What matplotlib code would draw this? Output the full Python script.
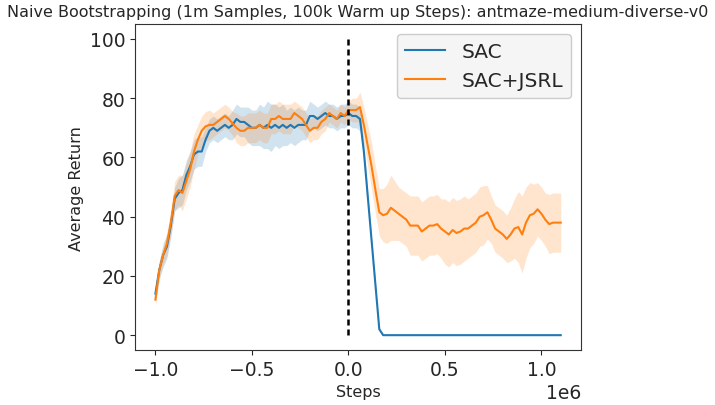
import numpy as np
import matplotlib
matplotlib.use("Agg")
import matplotlib.pyplot as plt

# Steps grid (in units of 1e6), every 20k steps
steps = np.round(np.arange(-1.0, 1.1001, 0.02), 2) * 1e6

sac_mean = [
    14, 22, 27, 30, 37, 46, 48, 49, 54, 57,
    61, 62, 62, 66, 69, 70, 69, 70, 71, 70,
    71, 73, 72, 72, 71, 70, 70, 71, 70, 71,
    70, 71, 70, 71, 70, 71, 70, 71, 71, 71,
    74, 74, 73, 74, 75, 74, 74, 73, 74, 74,
    75, 74, 74, 73, 62, 47, 32, 17, 2, 0,
    0, 0, 0, 0, 0, 0, 0, 0, 0, 0,
    0, 0, 0, 0, 0, 0, 0, 0, 0, 0,
    0, 0, 0, 0, 0, 0, 0, 0, 0, 0,
    0, 0, 0, 0, 0, 0, 0, 0, 0, 0,
    0, 0, 0, 0, 0, 0,
]
sac_ci = [
    3, 3, 4, 4, 4, 4, 5, 5, 5, 5,
    5, 5, 5, 4, 4, 4, 4, 4, 4, 4,
    5, 5, 5, 5, 6, 6, 6, 7, 7, 8,
    8, 7, 7, 7, 6, 6, 6, 6, 5, 5,
    5, 4, 4, 4, 4, 4, 4, 4, 4, 4,
    4, 4, 4, 4, 3, 2, 1, 1, 0.5, 0,
    0, 0, 0, 0, 0, 0, 0, 0, 0, 0,
    0, 0, 0, 0, 0, 0, 0, 0, 0, 0,
    0, 0, 0, 0, 0, 0, 0, 0, 0, 0,
    0, 0, 0, 0, 0, 0, 0, 0, 0, 0,
    0, 0, 0, 0, 0, 0,
]
jsrl_mean = [
    12, 22, 27, 31, 38, 47, 49, 48, 52, 56,
    62, 66, 69, 70.5, 71, 71, 72, 73, 74, 73,
    71.5, 70, 69, 69, 70, 70, 70, 71, 70, 70,
    73, 73, 74, 73, 73, 73, 75, 74, 73, 71,
    69, 70, 70, 72, 73, 75, 74, 73, 75, 74,
    76, 76, 76, 77, 71, 64, 57, 49, 41.5, 40.5,
    41, 43, 42, 41, 40, 39, 37, 37, 37, 35,
    36, 37, 37, 37.5, 36, 35, 34, 35.5, 34.5, 35,
    36, 36, 37, 38, 40, 40.5, 41.5, 39, 36, 35,
    34, 32.5, 34, 36, 36.5, 34, 38, 40.5, 41, 42.5,
    41, 39, 37.5, 38, 38, 38,
]
jsrl_ci = [
    2, 3, 3, 4, 4, 5, 5, 6, 6, 6,
    6, 5, 5, 5, 5, 4, 4, 4, 4, 4,
    4, 5, 5, 5, 5, 5, 5, 5, 5, 5,
    5, 5, 5, 5, 5, 5, 4, 4, 4, 4,
    4, 4, 4, 4, 4, 3, 3, 3, 3, 3,
    3, 4, 4, 5, 6, 7, 8, 8, 8, 9,
    10, 11, 10, 9, 9, 9, 10, 10, 10, 10,
    10, 10, 10, 10, 10, 11, 11, 11, 11, 11,
    11, 10, 10, 10, 10, 10, 9, 8, 8, 8,
    8, 8, 9, 10, 12, 13, 12, 11, 10, 9,
    9, 9, 10, 10, 10, 10,
]

series = [("SAC", sac_mean, sac_ci, "#1f77b4"),
          ("SAC+JSRL", jsrl_mean, jsrl_ci, "#ff7f0e")]

title = "Naive Bootstrapping (1m Samples, 100k Warm up Steps): antmaze-medium-diverse-v0"
xlabel = "Steps"
ylabel = "Average Return"
switch_step = 0
vline_range = [0, 100]

text_color = "#262626"
plt.rcParams.update({
    "font.family": "DejaVu Sans",
    "text.color": text_color,
    "axes.labelcolor": text_color,
    "xtick.color": text_color,
    "ytick.color": text_color,
    "axes.edgecolor": "#333333",
})

fig = plt.figure(figsize=(7.15, 4.06), dpi=100)
ax = fig.add_axes([0.189, 0.1355, 0.6236, 0.8025])

for name, m, c, col in series:
    m = np.array(m, dtype=float)
    c = np.array(c, dtype=float)
    ax.plot(steps, m, color=col, lw=1.5, label=name)
    ax.fill_between(steps, m - c, m + c, color=col, alpha=0.2, lw=0)

ax.vlines(switch_step, vline_range[0], vline_range[1], colors="black",
          linestyles=(0, (2.4, 1.6)), lw=1.8)

ax.set_title(title, fontsize=11.5)
ax.set_xlabel(xlabel, fontsize=11.5)
ax.set_ylabel(ylabel, fontsize=11.5)
ax.tick_params(labelsize=13.5)
ax.xaxis.get_offset_text().set_fontsize(13.5)
leg = ax.legend(loc="upper right", fontsize=14.5, facecolor="#f5f5f5",
                edgecolor="#cccccc", framealpha=1.0)

fig.savefig("out.png", dpi=100)
